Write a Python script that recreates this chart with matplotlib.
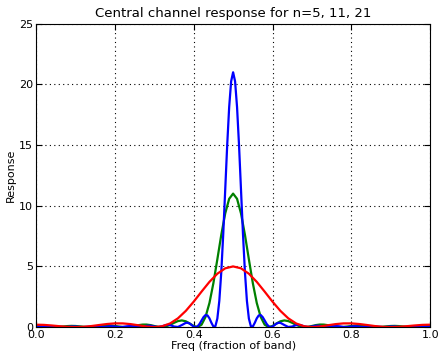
import numpy as np
import matplotlib
matplotlib.use('Agg')
from matplotlib import pyplot as plt

# n=5 response, sampled every 0.02
freq_n5 = np.linspace(0.0, 1.0, 51)
resp_n5 = [0.200, 0.182, 0.133, 0.072, 0.020, 0.000, 0.022, 0.084, 0.171, 0.254,
           0.306, 0.305, 0.246, 0.148, 0.047, 0.000, 0.067, 0.298, 0.722, 1.335,
           2.094, 2.925, 3.728, 4.399, 4.844, 5.000,
           4.844, 4.399, 3.728, 2.925, 2.094, 1.335, 0.722, 0.298, 0.067, 0.000,
           0.047, 0.148, 0.246, 0.305, 0.306, 0.254, 0.171, 0.084, 0.022, 0.000,
           0.020, 0.072, 0.133, 0.182, 0.200]

# n=11 response, sampled every 0.01
freq_n11 = np.linspace(0.0, 1.0, 101)
resp_n11 = [0.091, 0.081, 0.054, 0.024, 0.003, 0.002, 0.022, 0.054, 0.084, 0.099,
            0.091, 0.064, 0.030, 0.005, 0.002, 0.024, 0.063, 0.103, 0.127, 0.123,
            0.091, 0.046, 0.010, 0.001, 0.031, 0.091, 0.159, 0.206, 0.210, 0.166,
            0.091, 0.022, 0.001, 0.055, 0.184, 0.350, 0.494, 0.549, 0.478, 0.298,
            0.091, 0.001, 0.199, 0.836, 1.988, 3.624, 5.584, 7.605, 9.368, 10.572,
            11.000,
            10.572, 9.368, 7.605, 5.584, 3.624, 1.988, 0.836, 0.199, 0.001, 0.091,
            0.298, 0.478, 0.549, 0.494, 0.350, 0.184, 0.055, 0.001, 0.022, 0.091,
            0.166, 0.210, 0.206, 0.159, 0.091, 0.031, 0.001, 0.010, 0.046, 0.091,
            0.123, 0.127, 0.103, 0.063, 0.024, 0.002, 0.005, 0.030, 0.064, 0.091,
            0.099, 0.084, 0.054, 0.022, 0.002, 0.003, 0.024, 0.054, 0.081, 0.091]

# n=21 response, finer sampling near the centre
freq_n21 = [0.00, 0.01, 0.02, 0.03, 0.04, 0.05, 0.06, 0.07, 0.08, 0.09,
            0.10, 0.11, 0.12, 0.13, 0.14, 0.15, 0.16, 0.17, 0.18, 0.19,
            0.20, 0.21, 0.22, 0.23, 0.24, 0.25, 0.26, 0.27, 0.28, 0.29,
            0.30, 0.31, 0.32, 0.33, 0.34, 0.35, 0.36, 0.37,
            0.380, 0.385, 0.390, 0.395, 0.400, 0.405, 0.410, 0.415, 0.420, 0.425,
            0.430, 0.435, 0.440, 0.445, 0.450, 0.455, 0.460, 0.465, 0.470, 0.475,
            0.480, 0.485, 0.490, 0.495, 0.500, 0.505, 0.510, 0.515, 0.520, 0.525,
            0.530, 0.535, 0.540, 0.545, 0.550, 0.555, 0.560, 0.565, 0.570, 0.575,
            0.580, 0.585, 0.590, 0.595, 0.600, 0.605, 0.610, 0.615, 0.620,
            0.63, 0.64, 0.65, 0.66, 0.67, 0.68, 0.69, 0.70, 0.71, 0.72,
            0.73, 0.74, 0.75, 0.76, 0.77, 0.78, 0.79, 0.80, 0.81, 0.82,
            0.83, 0.84, 0.85, 0.86, 0.87, 0.88, 0.89, 0.90, 0.91, 0.92,
            0.93, 0.94, 0.95, 0.96, 0.97, 0.98, 0.99, 1.00]
resp_n21 = [0.048, 0.030, 0.003, 0.008, 0.037, 0.048, 0.023, 0.000, 0.015, 0.046,
            0.048, 0.017, 0.000, 0.025, 0.056, 0.048, 0.011, 0.003, 0.040, 0.070,
            0.048, 0.006, 0.011, 0.063, 0.088, 0.048, 0.002, 0.028, 0.101, 0.117,
            0.048, 0.000, 0.067, 0.175, 0.168, 0.048, 0.009, 0.170,
            0.350, 0.355, 0.284, 0.164, 0.048, 0.000, 0.070, 0.267, 0.549, 0.826,
            0.992, 0.962, 0.721, 0.353, 0.048, 0.071, 0.704, 2.163, 4.529, 7.688,
            11.331, 14.991, 18.130, 20.252, 21.000, 20.252, 18.130, 14.991, 11.331, 7.688,
            4.529, 2.163, 0.704, 0.071, 0.048, 0.353, 0.721, 0.962, 0.992, 0.826,
            0.549, 0.267, 0.070, 0.000, 0.048, 0.164, 0.284, 0.355, 0.350,
            0.170, 0.009, 0.048, 0.168, 0.175, 0.067, 0.000, 0.048, 0.117, 0.101,
            0.028, 0.002, 0.048, 0.088, 0.063, 0.011, 0.006, 0.048, 0.070, 0.040,
            0.003, 0.011, 0.048, 0.056, 0.025, 0.000, 0.017, 0.048, 0.046, 0.015,
            0.000, 0.023, 0.048, 0.037, 0.008, 0.003, 0.030, 0.048]

fig = plt.figure(figsize=(4.39, 3.54), dpi=100)
ax = fig.add_axes([0.082, 0.076, 0.898, 0.857])

# green under blue, red on top (as in the original)
ax.plot(freq_n11, resp_n11, color='g', lw=1.6)
ax.plot(freq_n21, resp_n21, color='b', lw=1.6)
ax.plot(freq_n5, resp_n5, color='r', lw=1.6)

ax.set_xlim(0.0, 1.0)
ax.set_ylim(0, 25)
ax.set_xticks([0.0, 0.2, 0.4, 0.6, 0.8, 1.0])
ax.set_yticks([0, 5, 10, 15, 20, 25])
ax.tick_params(direction='in', top=True, right=True, labelsize=8, length=4, pad=2)
ax.grid(True, color='k', linestyle=(0, (1, 3)), linewidth=0.8)
ax.set_xlabel('Freq (fraction of band)', fontsize=8, labelpad=1)
ax.set_ylabel('Response', fontsize=8, labelpad=2)
ax.set_title('Central channel response for n=5, 11, 21', fontsize=9.5, pad=5)

fig.savefig('out.png', dpi=100)
